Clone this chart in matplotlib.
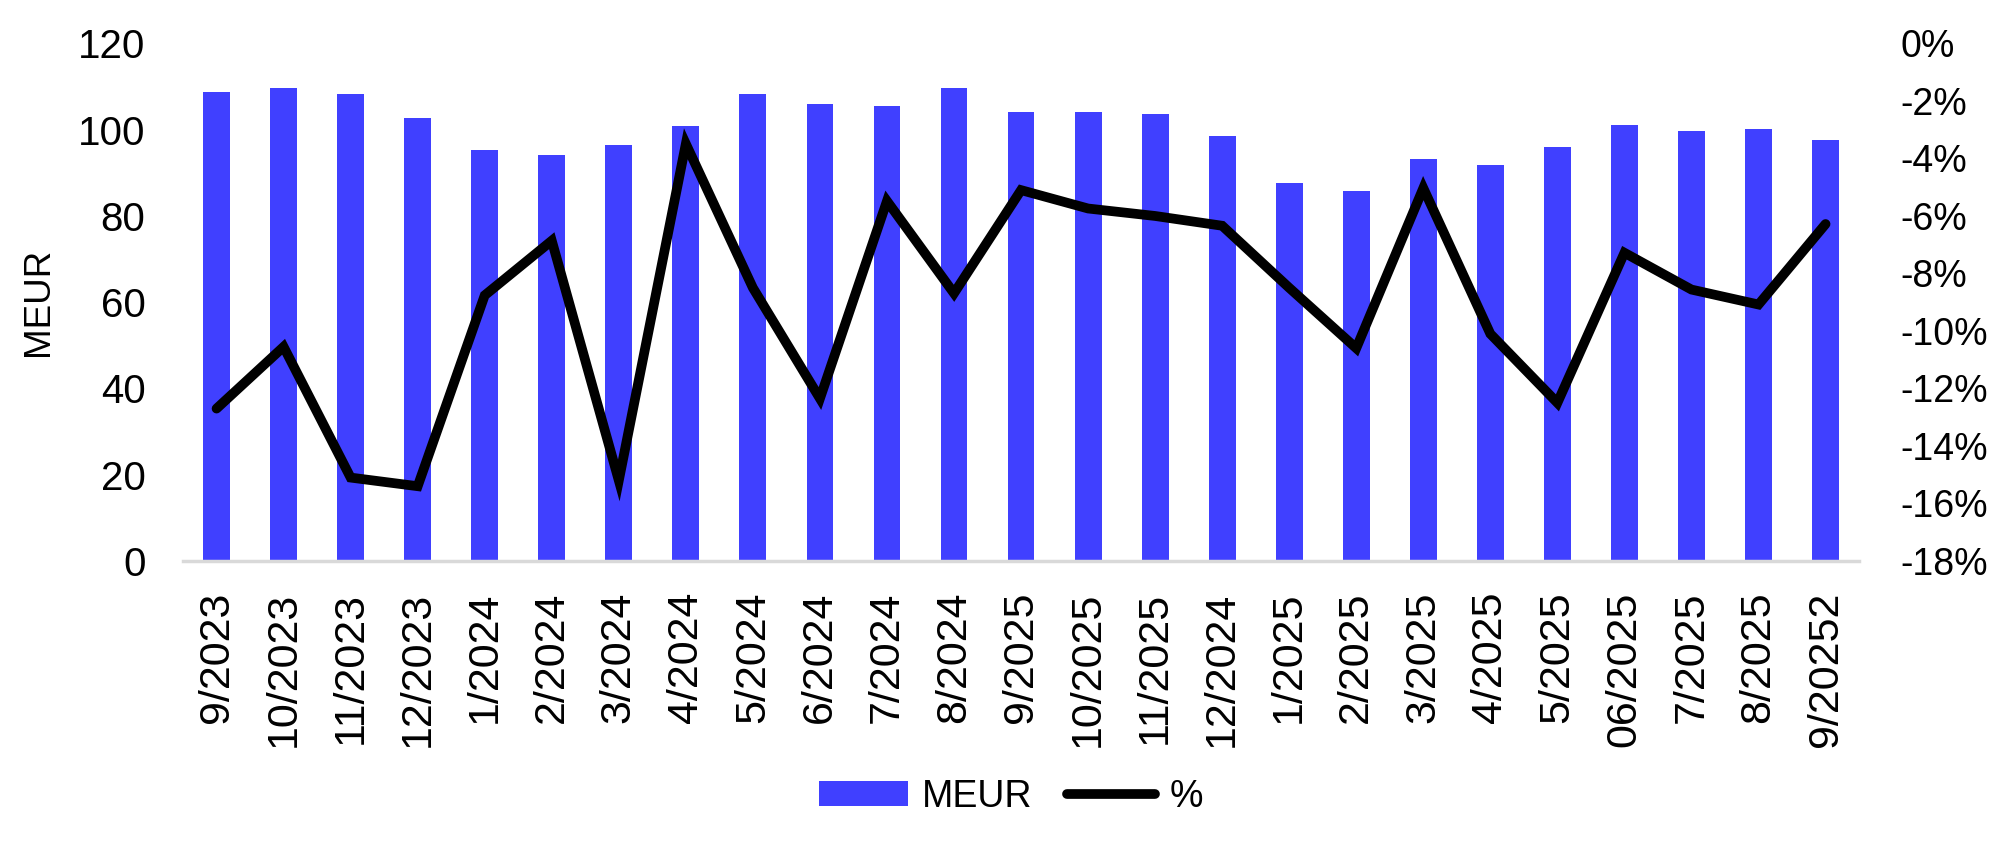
import numpy as np
import matplotlib.pyplot as plt
from matplotlib.ticker import FuncFormatter, MultipleLocator

plt.rcParams['font.family'] = ['Liberation Sans', 'DejaVu Sans']

# Data
months = ['9/2023', '10/2023', '11/2023', '12/2023', '1/2024', '2/2024', '3/2024',
          '4/2024', '5/2024', '6/2024', '7/2024', '8/2024', '9/2025', '10/2025',
          '11/2025', '12/2024', '1/2025', '2/2025', '3/2025', '4/2025', '5/2025',
          '06/2025', '7/2025', '8/2025', '9/20252']
meur = [108.7, 109.6, 108.3, 102.7, 95.2, 94.2, 96.5, 100.8, 108.3, 106.0, 105.4,
        109.6, 104.0, 104.0, 103.6, 98.6, 87.7, 85.8, 93.3, 91.8, 96.0, 101.0,
        99.7, 100.1, 97.6]
pct = [-12.7, -10.55, -15.1, -15.4, -8.76, -6.86, -15.2, -3.49, -8.5, -12.35,
       -5.48, -8.69, -5.1, -5.74, -6.0, -6.34, -8.5, -10.6, -5.03, -10.1, -12.5,
       -7.28, -8.56, -9.08, -6.28]

bar_color = '#4040ff'

fig = plt.figure(figsize=(20.07, 8.63), dpi=100)
ax = fig.add_axes([0.0912, 0.350, 0.8351, 0.5996])
x = np.arange(len(months))

bars = ax.bar(x, meur, width=0.4, color=bar_color, label='MEUR', zorder=2)
ax.set_xlim(-0.5, len(months) - 0.5)
ax.set_ylim(0, 120)
ax.yaxis.set_major_locator(MultipleLocator(20))
ax.set_xticks(x)
ax.set_xticklabels(months, rotation=90, fontsize=31)
ax.tick_params(axis='x', length=0, pad=22)
ax.tick_params(axis='y', length=0, pad=27, labelsize=29)
ax.set_ylabel('MEUR', fontsize=26.5)
ax.yaxis.set_label_coords(-0.0758, 0.5)
for s in ['top', 'right', 'left']:
    ax.spines[s].set_visible(False)
ax.spines['bottom'].set_color('#d9d9d9')
ax.spines['bottom'].set_linewidth(2.5)

ax2 = ax.twinx()
line, = ax2.plot(x, pct, color='black', linewidth=7, label='%',
                 solid_capstyle='round', solid_joinstyle='miter', zorder=3)
ax2.set_ylim(-18, 0)
ax2.yaxis.set_major_locator(MultipleLocator(2))
ax2.yaxis.set_major_formatter(FuncFormatter(lambda v, p: f'{int(round(v))}%'))
ax2.tick_params(axis='y', length=0, pad=30, labelsize=27)
for s in ['top', 'right', 'left', 'bottom']:
    ax2.spines[s].set_visible(False)

fig.legend([bars, line], ['MEUR', '%'], loc='center',
           bbox_to_anchor=(1011 / 2007, 1 - 797 / 863), ncol=2, frameon=False,
           fontsize=27, handlelength=2.36, handleheight=0.64,
           handletextpad=0.37, columnspacing=0.93)

fig.savefig('out.png', dpi=100)
